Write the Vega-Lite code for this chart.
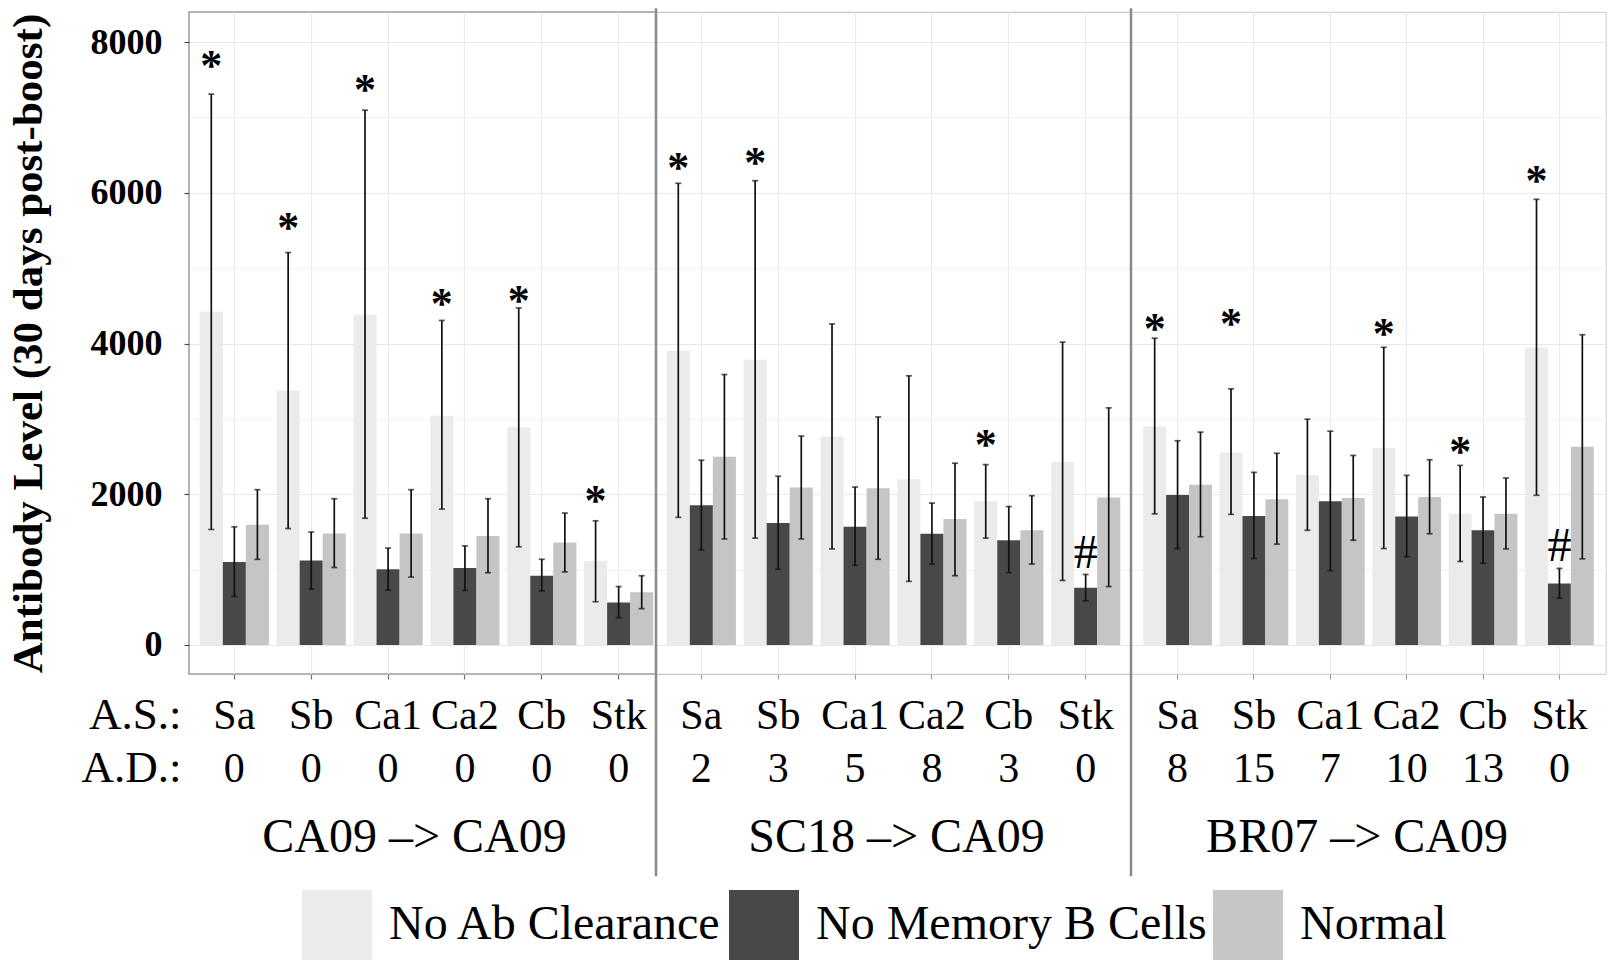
{
  "$schema": "https://vega.github.io/schema/vega-lite/v6.json",
  "background": "white",
  "padding": {"left": 6, "top": 6, "right": 0, "bottom": 0},
  "config": {
    "font": "Liberation Serif",
    "view": {"stroke": null},
    "axis": {"labelFont": "Liberation Serif", "titleFont": "Liberation Serif"},
    "legend": {"labelFont": "Liberation Serif"}
  },
  "datasets": {
    "d": [
      {"panel": "P1", "site": "Sa|0", "cond": "No Ab Clearance", "mean": 4421, "lo": 1533, "hi": 7310, "sig": "*", "sigY": 7781},
      {"panel": "P1", "site": "Sa|0", "cond": "No Memory B Cells", "mean": 1102, "lo": 643, "hi": 1568, "sig": ""},
      {"panel": "P1", "site": "Sa|0", "cond": "Normal", "mean": 1596, "lo": 1137, "hi": 2061, "sig": ""},
      {"panel": "P1", "site": "Sb|0", "cond": "No Ab Clearance", "mean": 3376, "lo": 1545, "hi": 5208, "sig": "*", "sigY": 5625},
      {"panel": "P1", "site": "Sb|0", "cond": "No Memory B Cells", "mean": 1120, "lo": 741, "hi": 1499, "sig": ""},
      {"panel": "P1", "site": "Sb|0", "cond": "Normal", "mean": 1481, "lo": 1028, "hi": 1941, "sig": ""},
      {"panel": "P1", "site": "Ca1|0", "cond": "No Ab Clearance", "mean": 4381, "lo": 1682, "hi": 7097, "sig": "*", "sigY": 7462},
      {"panel": "P1", "site": "Ca1|0", "cond": "No Memory B Cells", "mean": 1005, "lo": 729, "hi": 1286, "sig": ""},
      {"panel": "P1", "site": "Ca1|0", "cond": "Normal", "mean": 1481, "lo": 901, "hi": 2061, "sig": ""},
      {"panel": "P1", "site": "Ca2|0", "cond": "No Ab Clearance", "mean": 3043, "lo": 1803, "hi": 4307, "sig": "*", "sigY": 4623},
      {"panel": "P1", "site": "Ca2|0", "cond": "No Memory B Cells", "mean": 1022, "lo": 723, "hi": 1315, "sig": ""},
      {"panel": "P1", "site": "Ca2|0", "cond": "Normal", "mean": 1447, "lo": 959, "hi": 1941, "sig": ""},
      {"panel": "P1", "site": "Cb|0", "cond": "No Ab Clearance", "mean": 2888, "lo": 1303, "hi": 4473, "sig": "*", "sigY": 4663},
      {"panel": "P1", "site": "Cb|0", "cond": "No Memory B Cells", "mean": 919, "lo": 718, "hi": 1137, "sig": ""},
      {"panel": "P1", "site": "Cb|0", "cond": "Normal", "mean": 1361, "lo": 970, "hi": 1751, "sig": ""},
      {"panel": "P1", "site": "Stk|0", "cond": "No Ab Clearance", "mean": 1114, "lo": 574, "hi": 1648, "sig": "*", "sigY": 2010},
      {"panel": "P1", "site": "Stk|0", "cond": "No Memory B Cells", "mean": 563, "lo": 362, "hi": 775, "sig": ""},
      {"panel": "P1", "site": "Stk|0", "cond": "Normal", "mean": 701, "lo": 482, "hi": 919, "sig": ""},

      {"panel": "P2", "site": "Sa|2", "cond": "No Ab Clearance", "mean": 3905, "lo": 1694, "hi": 6127, "sig": "*", "sigY": 6424},
      {"panel": "P2", "site": "Sa|2", "cond": "No Memory B Cells", "mean": 1855, "lo": 1263, "hi": 2452, "sig": ""},
      {"panel": "P2", "site": "Sa|2", "cond": "Normal", "mean": 2498, "lo": 1407, "hi": 3589, "sig": ""},
      {"panel": "P2", "site": "Sb|3", "cond": "No Ab Clearance", "mean": 3784, "lo": 1418, "hi": 6161, "sig": "*", "sigY": 6487},
      {"panel": "P2", "site": "Sb|3", "cond": "No Memory B Cells", "mean": 1619, "lo": 1005, "hi": 2239, "sig": ""},
      {"panel": "P2", "site": "Sb|3", "cond": "Normal", "mean": 2090, "lo": 1407, "hi": 2773, "sig": ""},
      {"panel": "P2", "site": "Ca1|5", "cond": "No Ab Clearance", "mean": 2768, "lo": 1275, "hi": 4261, "sig": ""},
      {"panel": "P2", "site": "Ca1|5", "cond": "No Memory B Cells", "mean": 1568, "lo": 1057, "hi": 2096, "sig": ""},
      {"panel": "P2", "site": "Ca1|5", "cond": "Normal", "mean": 2079, "lo": 1137, "hi": 3026, "sig": ""},
      {"panel": "P2", "site": "Ca2|8", "cond": "No Ab Clearance", "mean": 2199, "lo": 844, "hi": 3572, "sig": ""},
      {"panel": "P2", "site": "Ca2|8", "cond": "No Memory B Cells", "mean": 1476, "lo": 1074, "hi": 1883, "sig": ""},
      {"panel": "P2", "site": "Ca2|8", "cond": "Normal", "mean": 1671, "lo": 919, "hi": 2412, "sig": ""},
      {"panel": "P2", "site": "Cb|3", "cond": "No Ab Clearance", "mean": 1906, "lo": 1418, "hi": 2394, "sig": "*", "sigY": 2747},
      {"panel": "P2", "site": "Cb|3", "cond": "No Memory B Cells", "mean": 1390, "lo": 959, "hi": 1837, "sig": ""},
      {"panel": "P2", "site": "Cb|3", "cond": "Normal", "mean": 1522, "lo": 1074, "hi": 1981, "sig": ""},
      {"panel": "P2", "site": "Stk|0", "cond": "No Ab Clearance", "mean": 2429, "lo": 856, "hi": 4019, "sig": ""},
      {"panel": "P2", "site": "Stk|0", "cond": "No Memory B Cells", "mean": 758, "lo": 586, "hi": 936, "sig": "#", "sigY": 1238},
      {"panel": "P2", "site": "Stk|0", "cond": "Normal", "mean": 1958, "lo": 775, "hi": 3147, "sig": ""},

      {"panel": "P3", "site": "Sa|8", "cond": "No Ab Clearance", "mean": 2900, "lo": 1740, "hi": 4071, "sig": "*", "sigY": 4286},
      {"panel": "P3", "site": "Sa|8", "cond": "No Memory B Cells", "mean": 1992, "lo": 1280, "hi": 2710, "sig": ""},
      {"panel": "P3", "site": "Sa|8", "cond": "Normal", "mean": 2125, "lo": 1436, "hi": 2825, "sig": ""},
      {"panel": "P3", "site": "Sb|15", "cond": "No Ab Clearance", "mean": 2555, "lo": 1734, "hi": 3399, "sig": "*", "sigY": 4358},
      {"panel": "P3", "site": "Sb|15", "cond": "No Memory B Cells", "mean": 1711, "lo": 1148, "hi": 2291, "sig": ""},
      {"panel": "P3", "site": "Sb|15", "cond": "Normal", "mean": 1935, "lo": 1338, "hi": 2544, "sig": ""},
      {"panel": "P3", "site": "Ca1|7", "cond": "No Ab Clearance", "mean": 2257, "lo": 1522, "hi": 2997, "sig": ""},
      {"panel": "P3", "site": "Ca1|7", "cond": "No Memory B Cells", "mean": 1906, "lo": 988, "hi": 2837, "sig": ""},
      {"panel": "P3", "site": "Ca1|7", "cond": "Normal", "mean": 1952, "lo": 1390, "hi": 2515, "sig": ""},
      {"panel": "P3", "site": "Ca2|10", "cond": "No Ab Clearance", "mean": 2613, "lo": 1280, "hi": 3950, "sig": "*", "sigY": 4223},
      {"panel": "P3", "site": "Ca2|10", "cond": "No Memory B Cells", "mean": 1705, "lo": 1171, "hi": 2251, "sig": ""},
      {"panel": "P3", "site": "Ca2|10", "cond": "Normal", "mean": 1964, "lo": 1476, "hi": 2458, "sig": ""},
      {"panel": "P3", "site": "Cb|13", "cond": "No Ab Clearance", "mean": 1740, "lo": 1108, "hi": 2383, "sig": "*", "sigY": 2656},
      {"panel": "P3", "site": "Cb|13", "cond": "No Memory B Cells", "mean": 1522, "lo": 1085, "hi": 1964, "sig": ""},
      {"panel": "P3", "site": "Cb|13", "cond": "Normal", "mean": 1740, "lo": 1275, "hi": 2216, "sig": ""},
      {"panel": "P3", "site": "Stk|0", "cond": "No Ab Clearance", "mean": 3945, "lo": 1987, "hi": 5914, "sig": "*", "sigY": 6249},
      {"panel": "P3", "site": "Stk|0", "cond": "No Memory B Cells", "mean": 815, "lo": 620, "hi": 1016, "sig": "#", "sigY": 1324},
      {"panel": "P3", "site": "Stk|0", "cond": "Normal", "mean": 2630, "lo": 1143, "hi": 4117, "sig": ""}
    ]
  },
  "resolve": {"scale": {"color": "shared", "x": "independent", "y": "independent", "xOffset": "independent"}, "legend": {"color": "shared"}},
  "spacing": 0,
  "bounds": "flush",
  "hconcat": [
    {
      "width": 467,
      "height": 662,
      "view": {"stroke": "#9c9c9c", "strokeWidth": 1.5},
      "data": {"name": "d"},
      "transform": [{"filter": "datum.panel === 'P1'"}],
      "resolve": {"axis": {"x": "independent"}},
      "layer": [
        {
          "mark": {"type": "bar"},
          "encoding": {
            "x": {"field": "site", "type": "nominal",
              "scale": {"domain": ["Sa|0", "Sb|0", "Ca1|0", "Ca2|0", "Cb|0", "Stk|0"], "range": [0, 475], "paddingInner": 0.1, "paddingOuter": 0.14},
              "axis": {"orient": "bottom", "title": "CA09 –> CA09", "titleFontSize": 48, "titleFontWeight": "normal", "titleColor": "black", "titleBaseline": "alphabetic", "titleAlign": "center", "titleX": 225, "titleY": 177,
                "labelExpr": "split(datum.label, '|')", "labelFontSize": 42, "labelColor": "black", "labelBaseline": "alphabetic", "labelPadding": 49.7, "labelLineHeight": 53, "labelAngle": 0, "labelOverlap": false, "labelBound": false, "labelFlush": false, "labelLimit": 0,
                "tickSize": 5, "tickColor": "#6f6f6f", "tickWidth": 1.2, "domain": false, "grid": true, "gridColor": "#ebebeb", "gridWidth": 1.2}},
            "xOffset": {"field": "cond", "type": "nominal", "scale": {"domain": ["No Ab Clearance", "No Memory B Cells", "Normal"], "paddingInner": 0, "paddingOuter": 0}},
            "y": {"field": "mean", "type": "quantitative", "stack": null,
              "scale": {"domain": [-385, 8400], "nice": false, "zero": false},
              "axis": {"values": [0, 1000, 2000, 3000, 4000, 5000, 6000, 7000, 8000], "format": "d",
                "labelExpr": "datum.value % 2000 === 0 ? datum.label : ''",
                "labelFontSize": 36, "labelFontWeight": "bold", "labelColor": "black", "labelPadding": 22,
                "tickSize": 5, "tickColor": "#4d4d4d", "tickWidth": 1.2,
                "tickOpacity": {"condition": {"test": "datum.value % 2000 === 0", "value": 1}, "value": 0},
                "domain": false, "grid": true,
                "gridColor": {"condition": {"test": "datum.value % 2000 === 0", "value": "#e8e8e8"}, "value": "#f2f2f2"},
                "gridWidth": 1.2,
                "title": "Antibody Level (30 days post-boost)", "titleFontSize": 43, "titleFontWeight": "bold", "titleColor": "black",
                "titleAngle": 270, "titleBaseline": "alphabetic", "titleAlign": "center", "titleX": -147.6, "titleY": 331}},
            "color": {"field": "cond", "type": "nominal",
              "scale": {"domain": ["No Ab Clearance", "No Memory B Cells", "Normal"], "range": ["#ebebeb", "#484848", "#c5c5c5"]},
              "legend": {"orient": "none", "legendX": 113, "legendY": 878, "direction": "horizontal", "title": null, "symbolType": "square", "symbolSize": 4900, "symbolStrokeWidth": 0, "symbolOpacity": 1, "labelFontSize": 48, "labelColor": "black", "labelOffset": 17, "columnPadding": 6, "labelLimit": 0, "padding": 0}}
          }
        },
        {
          "mark": {"type": "rule", "color": "#111111", "strokeWidth": 1.7},
          "encoding": {
            "x": {"field": "site", "type": "nominal", "axis": null},
            "xOffset": {"field": "cond", "type": "nominal"},
            "y": {"field": "lo", "type": "quantitative"},
            "y2": {"field": "hi"}
          }
        },
        {
          "mark": {"type": "tick", "orient": "horizontal", "size": 6, "thickness": 1.7, "color": "#111111"},
          "encoding": {
            "x": {"field": "site", "type": "nominal", "axis": null},
            "xOffset": {"field": "cond", "type": "nominal"},
            "y": {"field": "lo", "type": "quantitative"}
          }
        },
        {
          "mark": {"type": "tick", "orient": "horizontal", "size": 6, "thickness": 1.7, "color": "#111111"},
          "encoding": {
            "x": {"field": "site", "type": "nominal", "axis": null},
            "xOffset": {"field": "cond", "type": "nominal"},
            "y": {"field": "hi", "type": "quantitative"}
          }
        },
        {
          "transform": [{"filter": "datum.sig === '*'"}],
          "mark": {"type": "text", "fontSize": 44, "fontWeight": "bold", "color": "black", "baseline": "alphabetic", "align": "center", "dy": 21},
          "encoding": {
            "x": {"field": "site", "type": "nominal",
              "axis": {"orient": "bottom", "labels": false, "ticks": false, "domain": false, "grid": false,
                "title": ["A.S.:", "A.D.:"], "titleX": -8, "titleY": 54.7, "titleAlign": "right", "titleBaseline": "alphabetic",
                "titleFontSize": 45, "titleFontWeight": "normal", "titleLineHeight": 53, "titleColor": "black"}},
            "xOffset": {"field": "cond", "type": "nominal"},
            "y": {"field": "sigY", "type": "quantitative"},
            "text": {"field": "sig"}
          }
        }
      ]
    },
    {
      "width": 475,
      "height": 662,
      "view": {"stroke": "#c8c8c8", "strokeWidth": 1.2},
      "data": {"name": "d"},
      "transform": [{"filter": "datum.panel === 'P2'"}],
      "resolve": {"scale": {"x": "independent"}},
      "layer": [
        {
          "resolve": {"axis": {"x": "independent"}},
          "layer": [
            {
              "mark": {"type": "bar"},
              "encoding": {
                "x": {"field": "site", "type": "nominal",
                  "scale": {"domain": ["Sa|2", "Sb|3", "Ca1|5", "Ca2|8", "Cb|3", "Stk|0"], "paddingInner": 0.1, "paddingOuter": 0.14},
                  "axis": {"orient": "bottom", "title": "SC18 –> CA09", "titleFontSize": 48, "titleFontWeight": "normal", "titleColor": "black", "titleBaseline": "alphabetic", "titleAlign": "center", "titleX": 240, "titleY": 177,
                    "labelExpr": "split(datum.label, '|')", "labelFontSize": 42, "labelColor": "black", "labelBaseline": "alphabetic", "labelPadding": 49.7, "labelLineHeight": 53, "labelAngle": 0, "labelOverlap": false, "labelBound": false, "labelFlush": false, "labelLimit": 0,
                    "tickSize": 5, "tickColor": "#a0a0a0", "tickWidth": 1.2, "domain": false, "grid": true, "gridColor": "#ebebeb", "gridWidth": 1.2}},
                "xOffset": {"field": "cond", "type": "nominal", "scale": {"domain": ["No Ab Clearance", "No Memory B Cells", "Normal"], "paddingInner": 0, "paddingOuter": 0}},
                "y": {"field": "mean", "type": "quantitative", "stack": null,
                  "scale": {"domain": [-385, 8400], "nice": false, "zero": false},
                  "axis": {"values": [0, 1000, 2000, 3000, 4000, 5000, 6000, 7000, 8000], "labels": false, "ticks": false, "domain": false, "title": null, "grid": true,
                    "gridColor": {"condition": {"test": "datum.value % 2000 === 0", "value": "#e8e8e8"}, "value": "#f2f2f2"}, "gridWidth": 1.2}},
                "color": {"field": "cond", "type": "nominal",
                  "scale": {"domain": ["No Ab Clearance", "No Memory B Cells", "Normal"], "range": ["#ebebeb", "#484848", "#c5c5c5"]},
                  "legend": {"orient": "none", "legendX": 113, "legendY": 878, "direction": "horizontal", "title": null, "symbolType": "square", "symbolSize": 4900, "symbolStrokeWidth": 0, "symbolOpacity": 1, "labelFontSize": 48, "labelColor": "black", "labelOffset": 17, "columnPadding": 6, "labelLimit": 0, "padding": 0}}
              }
            },
            {
              "mark": {"type": "rule", "color": "#111111", "strokeWidth": 1.7},
              "encoding": {
                "x": {"field": "site", "type": "nominal", "axis": null},
                "xOffset": {"field": "cond", "type": "nominal"},
                "y": {"field": "lo", "type": "quantitative"},
                "y2": {"field": "hi"}
              }
            },
            {
              "mark": {"type": "tick", "orient": "horizontal", "size": 6, "thickness": 1.7, "color": "#111111"},
              "encoding": {
                "x": {"field": "site", "type": "nominal", "axis": null},
                "xOffset": {"field": "cond", "type": "nominal"},
                "y": {"field": "lo", "type": "quantitative"}
              }
            },
            {
              "mark": {"type": "tick", "orient": "horizontal", "size": 6, "thickness": 1.7, "color": "#111111"},
              "encoding": {
                "x": {"field": "site", "type": "nominal", "axis": null},
                "xOffset": {"field": "cond", "type": "nominal"},
                "y": {"field": "hi", "type": "quantitative"}
              }
            },
            {
              "transform": [{"filter": "datum.sig === '*'"}],
              "mark": {"type": "text", "fontSize": 44, "fontWeight": "bold", "color": "black", "baseline": "alphabetic", "align": "center", "dy": 21},
              "encoding": {
                "x": {"field": "site", "type": "nominal", "axis": null},
                "xOffset": {"field": "cond", "type": "nominal"},
                "y": {"field": "sigY", "type": "quantitative"},
                "text": {"field": "sig"}
              }
            },
            {
              "transform": [{"filter": "datum.sig === '#'"}],
              "mark": {"type": "text", "fontSize": 48, "color": "black", "baseline": "alphabetic", "align": "center", "dy": 16},
              "encoding": {
                "x": {"field": "site", "type": "nominal", "axis": null},
                "xOffset": {"field": "cond", "type": "nominal"},
                "y": {"field": "sigY", "type": "quantitative"},
                "text": {"field": "sig"}
              }
            }
          ]
        },
        {
          "data": {"values": [{}]},
          "mark": {"type": "rule", "color": "#8a8a8a", "strokeWidth": 2.5},
          "encoding": {
            "x": {"datum": 0, "type": "quantitative", "scale": {"domain": [0, 1]}, "axis": null},
            "y": {"datum": 8450, "type": "quantitative"},
            "y2": {"datum": -3070}
          }
        }
      ]
    },
    {
      "width": 475,
      "height": 662,
      "view": {"stroke": "#d4d4d4", "strokeWidth": 1.2},
      "data": {"name": "d"},
      "transform": [{"filter": "datum.panel === 'P3'"}],
      "resolve": {"scale": {"x": "independent"}},
      "layer": [
        {
          "resolve": {"axis": {"x": "independent"}},
          "layer": [
            {
              "mark": {"type": "bar"},
              "encoding": {
                "x": {"field": "site", "type": "nominal",
                  "scale": {"domain": ["Sa|8", "Sb|15", "Ca1|7", "Ca2|10", "Cb|13", "Stk|0"], "paddingInner": 0.1, "paddingOuter": 0.16},
                  "axis": {"orient": "bottom", "title": "BR07 –> CA09", "titleFontSize": 48, "titleFontWeight": "normal", "titleColor": "black", "titleBaseline": "alphabetic", "titleAlign": "center", "titleX": 225.5, "titleY": 177,
                    "labelExpr": "split(datum.label, '|')", "labelFontSize": 42, "labelColor": "black", "labelBaseline": "alphabetic", "labelPadding": 49.7, "labelLineHeight": 53, "labelAngle": 0, "labelOverlap": false, "labelBound": false, "labelFlush": false, "labelLimit": 0,
                    "tickSize": 5, "tickColor": "#a0a0a0", "tickWidth": 1.2, "domain": false, "grid": true, "gridColor": "#ebebeb", "gridWidth": 1.2}},
                "xOffset": {"field": "cond", "type": "nominal", "scale": {"domain": ["No Ab Clearance", "No Memory B Cells", "Normal"], "paddingInner": 0, "paddingOuter": 0}},
                "y": {"field": "mean", "type": "quantitative", "stack": null,
                  "scale": {"domain": [-385, 8400], "nice": false, "zero": false},
                  "axis": {"values": [0, 1000, 2000, 3000, 4000, 5000, 6000, 7000, 8000], "labels": false, "ticks": false, "domain": false, "title": null, "grid": true,
                    "gridColor": {"condition": {"test": "datum.value % 2000 === 0", "value": "#e8e8e8"}, "value": "#f2f2f2"}, "gridWidth": 1.2}},
                "color": {"field": "cond", "type": "nominal",
                  "scale": {"domain": ["No Ab Clearance", "No Memory B Cells", "Normal"], "range": ["#ebebeb", "#484848", "#c5c5c5"]},
                  "legend": {"orient": "none", "legendX": 113, "legendY": 878, "direction": "horizontal", "title": null, "symbolType": "square", "symbolSize": 4900, "symbolStrokeWidth": 0, "symbolOpacity": 1, "labelFontSize": 48, "labelColor": "black", "labelOffset": 17, "columnPadding": 6, "labelLimit": 0, "padding": 0}}
              }
            },
            {
              "mark": {"type": "rule", "color": "#111111", "strokeWidth": 1.7},
              "encoding": {
                "x": {"field": "site", "type": "nominal", "axis": null},
                "xOffset": {"field": "cond", "type": "nominal"},
                "y": {"field": "lo", "type": "quantitative"},
                "y2": {"field": "hi"}
              }
            },
            {
              "mark": {"type": "tick", "orient": "horizontal", "size": 6, "thickness": 1.7, "color": "#111111"},
              "encoding": {
                "x": {"field": "site", "type": "nominal", "axis": null},
                "xOffset": {"field": "cond", "type": "nominal"},
                "y": {"field": "lo", "type": "quantitative"}
              }
            },
            {
              "mark": {"type": "tick", "orient": "horizontal", "size": 6, "thickness": 1.7, "color": "#111111"},
              "encoding": {
                "x": {"field": "site", "type": "nominal", "axis": null},
                "xOffset": {"field": "cond", "type": "nominal"},
                "y": {"field": "hi", "type": "quantitative"}
              }
            },
            {
              "transform": [{"filter": "datum.sig === '*'"}],
              "mark": {"type": "text", "fontSize": 44, "fontWeight": "bold", "color": "black", "baseline": "alphabetic", "align": "center", "dy": 21},
              "encoding": {
                "x": {"field": "site", "type": "nominal", "axis": null},
                "xOffset": {"field": "cond", "type": "nominal"},
                "y": {"field": "sigY", "type": "quantitative"},
                "text": {"field": "sig"}
              }
            },
            {
              "transform": [{"filter": "datum.sig === '#'"}],
              "mark": {"type": "text", "fontSize": 48, "color": "black", "baseline": "alphabetic", "align": "center", "dy": 16},
              "encoding": {
                "x": {"field": "site", "type": "nominal", "axis": null},
                "xOffset": {"field": "cond", "type": "nominal"},
                "y": {"field": "sigY", "type": "quantitative"},
                "text": {"field": "sig"}
              }
            }
          ]
        },
        {
          "data": {"values": [{}]},
          "mark": {"type": "rule", "color": "#8a8a8a", "strokeWidth": 2.5},
          "encoding": {
            "x": {"datum": 0, "type": "quantitative", "scale": {"domain": [0, 1]}, "axis": null},
            "y": {"datum": 8450, "type": "quantitative"},
            "y2": {"datum": -3070}
          }
        }
      ]
    }
  ]
}
